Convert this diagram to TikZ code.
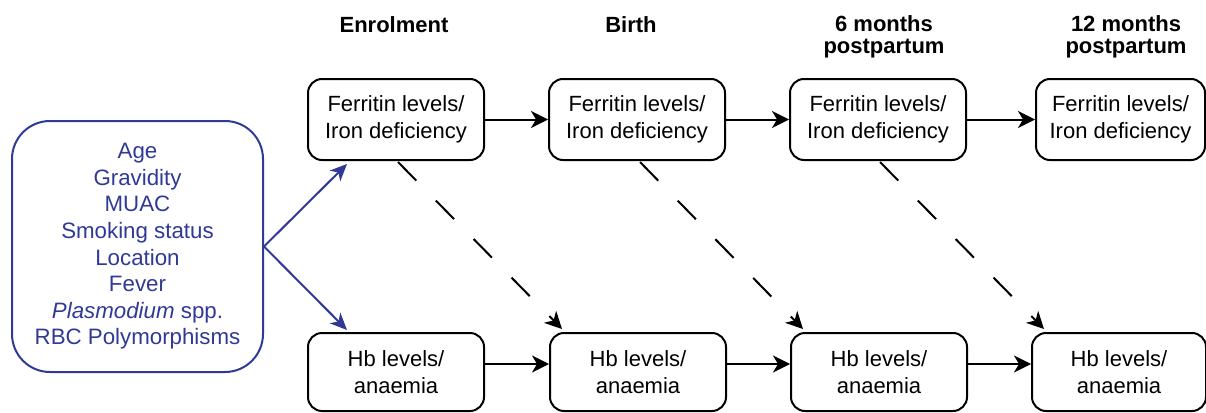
\documentclass[tikz,border=0pt]{standalone}
\usepackage{fontspec}
\setmainfont{Liberation Sans}
\usetikzlibrary{arrows.meta,calc}
\definecolor{navy}{RGB}{48,58,150}
\tikzset{
  box/.style={draw=black, line width=2pt, rounded corners=14pt, fill=white,
    align=center, font=\fontsize{22}{26.5}\selectfont, inner sep=0pt},
  fbox/.style={box, minimum width=176pt, minimum height=81pt},
  hbox/.style={box, minimum width=176pt, minimum height=78pt, font=\fontsize{22}{27}\selectfont},
  hdr/.style={align=center, font=\bfseries\fontsize{22}{22.5}\selectfont},
  arr/.style={line width=2pt, -{Stealth[length=17pt,width=17pt,inset=5pt]}},
  darr/.style={arr, dash pattern=on 26pt off 28pt},
  barr/.style={line width=2pt, draw=navy, -{Stealth[length=17pt,width=15pt,inset=5pt]}, color=navy}
}
\begin{document}
\begin{tikzpicture}[x=1pt,y=-1pt]
\useasboundingbox (0,0) rectangle (1206,412);
% headers
\node[hdr] (h1) at (394,25) {Enrolment};
\node[hdr] (h2) at (631,25) {Birth};
\node[hdr] (h3) at (884,37) {6 months\\ postpartum};
\node[hdr] (h4) at (1126,37) {12 months\\ postpartum};
% ferritin boxes
\node[fbox] (F1) at (396,119.5) {\raisebox{-2pt}{\parbox{170pt}{\centering Ferritin levels/\\Iron deficiency}}};
\node[fbox] (F2) at (637,119.5) {\raisebox{-2pt}{\parbox{170pt}{\centering Ferritin levels/\\Iron deficiency}}};
\node[fbox] (F3) at (878,119.5) {\raisebox{-2pt}{\parbox{170pt}{\centering Ferritin levels/\\Iron deficiency}}};
\node[fbox, minimum width=169pt] (F4) at (1120.5,119.5) {\raisebox{-2pt}{\parbox{165pt}{\centering Ferritin levels/\\Iron deficiency}}};
% Hb boxes
\node[hbox] (H1) at (396,372) {Hb levels/\\anaemia};
\node[hbox] (H2) at (638,372) {Hb levels/\\anaemia};
\node[hbox] (H3) at (879,372) {Hb levels/\\anaemia};
\node[hbox, minimum width=174pt] (H4) at (1119,372) {Hb levels/\\anaemia};
% left box
\node[box, draw=navy, text=navy, rounded corners=38pt, minimum width=251pt, minimum height=251pt,
  font=\fontsize{22.3}{26.6}\selectfont] (L) at (137.5,246.5)
  {Age\\Gravidity\\MUAC\\Smoking status\\Location\\Fever\\\textit{Plasmodium} spp.\\RBC Polymorphisms};
% horizontal arrows
\draw[arr] (F1.east) -- (F2.west);
\draw[arr] (F2.east) -- (F3.west);
\draw[arr] (F3.east) -- (F4.west);
\draw[arr] ([yshift=8pt]H1.east) -- ([yshift=8pt]H2.west);
\draw[arr] ([yshift=8pt]H2.east) -- ([yshift=8pt]H3.west);
\draw[arr] ([yshift=8pt]H3.east) -- ([yshift=8pt]H4.west);
% dashed arrows
\coordinate (d1s) at ($(F1.south)+(2,1)$);
\coordinate (d1e) at ($(H2.north west)+(13,-3)$);
\coordinate (d2s) at ($(F2.south)+(3,1)$);
\coordinate (d2e) at ($(H3.north west)+(13,-3)$);
\coordinate (d3s) at ($(F3.south)+(2,1)$);
\coordinate (d3e) at ($(H4.north west)+(13,-3)$);
\draw[darr] (d1s) -- (d1e);
\draw[darr] (d2s) -- (d2e);
\draw[darr] (d3s) -- (d3e);
% blue arrows
\coordinate (b1) at ($(F1.south west)+(40,3)$);
\coordinate (b2) at ($(H1.north west)+(40,-2)$);
\draw[barr] (L.east) -- (b1);
\draw[barr] (L.east) -- (b2);
\end{tikzpicture}
\end{document}
